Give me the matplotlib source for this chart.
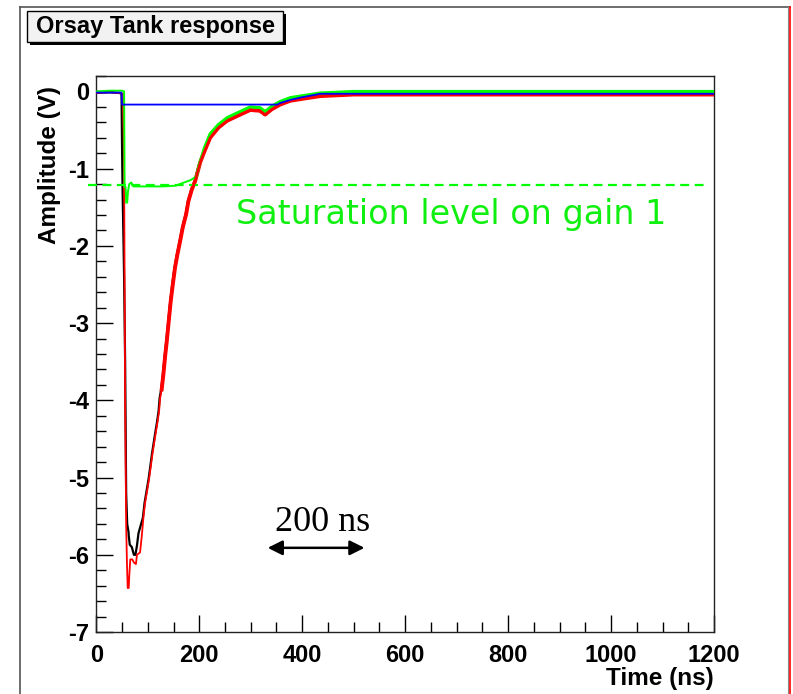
import numpy as np
import matplotlib
matplotlib.use("Agg")
import matplotlib.pyplot as plt
from matplotlib.patches import Rectangle
from matplotlib.lines import Line2D
from matplotlib.ticker import MultipleLocator

plt.rcParams["axes.unicode_minus"] = False

# ---------------- data ----------------
red_t = [0, 25, 45, 52, 54, 56, 58, 59.5, 61, 63, 64, 66, 70, 73, 77, 79, 85, 88.3, 91.5, 94.7,
         98, 102.5, 105.8, 109, 112, 115.5, 118.7, 122, 124, 127, 130.4, 133.7, 137, 141.4, 144.7,
         148.6, 153, 157.6, 162.8, 168, 174.5, 179, 185.6, 192, 196.5, 201.8, 208, 221, 237, 254,
         273, 299, 318, 328, 341, 357, 377, 396, 435, 500, 600, 700, 800, 900, 1000, 1100, 1200]
red_v = [-0.02, -0.01, -0.02, -0.03, -1.0, -4.0, -5.6, -6.1, -6.43, -6.43, -6.28, -6.06, -6.06,
         -6.1, -6.12, -6.0, -5.97, -5.76, -5.52, -5.33, -5.2, -5.02, -4.86, -4.7, -4.57, -4.42,
         -4.29, -4.14, -3.97, -3.86, -3.66, -3.43, -3.23, -2.93, -2.71, -2.5, -2.28, -2.11, -1.94,
         -1.76, -1.59, -1.42, -1.27, -1.16, -1.05, -0.92, -0.81, -0.6, -0.47, -0.38, -0.32, -0.24,
         -0.25, -0.30, -0.23, -0.17, -0.12, -0.10, -0.06, -0.04, -0.04, -0.04, -0.04, -0.04,
         -0.04, -0.04, -0.04]

black_t = [0, 25, 45, 49, 50, 51, 53, 54, 56, 58, 60, 62.5, 63, 65, 69, 73, 76, 79, 82, 90.5,
           93.7, 97, 101.5, 104.8, 108, 111, 114.5, 117.7, 121, 123, 126, 129.4, 132.7, 136,
           140.4, 143.7, 147.6, 152, 156.6, 161.8, 167, 173.5, 178, 184.6, 191, 195.5, 200.8,
           207, 220, 236, 253, 272, 298, 317, 327, 340, 356, 376, 395, 434, 500, 1200]
black_v = [-0.02, -0.01, -0.02, -0.03, -0.7, -1.25, -2.0, -2.4, -3.5, -5.2, -5.6, -5.7, -5.75,
           -5.87, -5.9, -6.0, -6.0, -5.88, -5.72, -5.52, -5.33, -5.2, -5.02, -4.86, -4.7, -4.57,
           -4.42, -4.29, -4.14, -3.97, -3.86, -3.66, -3.43, -3.23, -2.93, -2.71, -2.5, -2.28,
           -2.11, -1.94, -1.76, -1.59, -1.42, -1.27, -1.16, -1.05, -0.92, -0.81, -0.6, -0.47,
           -0.38, -0.32, -0.24, -0.25, -0.30, -0.23, -0.17, -0.12, -0.10, -0.06, -0.04, -0.04]

green_t = [0, 25, 50, 54, 55, 57, 58, 60, 61.5, 64, 68, 72, 100, 130, 155, 162, 170, 182.5,
           190, 195, 199.7, 204.7, 210, 221, 237, 254, 273, 299, 318, 328, 341, 357, 377, 396,
           435, 500, 1200]
green_v = [0.0, 0.01, 0.01, 0.0, -1.24, -1.24, -1.44, -1.44, -1.3, -1.2, -1.18, -1.23, -1.23,
           -1.23, -1.22, -1.2, -1.18, -1.15, -1.12, -1.09, -0.95, -0.85, -0.73, -0.55, -0.43,
           -0.34, -0.28, -0.2, -0.21, -0.26, -0.19, -0.13, -0.08, -0.06, -0.02, 0.0, 0.0]

blue_t = [0, 49, 50, 352, 357, 377, 396, 420, 435, 500, 1200]
blue_v = [-0.015, -0.015, -0.17, -0.17, -0.15, -0.11, -0.08, -0.05, -0.03, -0.03, -0.03]

sat_level = -1.21
sat_t = [-16, 1182]
sat_label = "Saturation level on gain 1"

scale_t = [333, 521]
scale_v = -5.91
scale_label = "200 ns"

title = "Orsay Tank response"
xlabel = "Time (ns)"
ylabel = "Amplitude (V)"
xlim = (0, 1200)
ylim = (-7, 0.2)

# ---------------- figure ----------------
W, H = 793, 694
fig = plt.figure(figsize=(W / 100, H / 100), dpi=100)
fig.patch.set_facecolor("white")

ax = fig.add_axes([96.3 / W, (H - 632) / H, (714 - 96.3) / W, (632 - 76) / H])
ax.set_facecolor("white")

bold = dict(family="Liberation Sans", weight="bold")

ax.plot(black_t, black_v, color="black", lw=1.6, zorder=2)
ax.plot(red_t, red_v, color="#ff0000", lw=1.3, zorder=3)
rt = np.array(red_t); rv = np.array(red_v)
m = rt >= 125
ax.plot(rt[m], rv[m], color="#ff0000", lw=2.8, zorder=3)
gt = np.array(green_t); gv = np.array(green_v)
ax.plot(gt, gv, color="#00ff00", lw=1.4, zorder=4)
mg = gt >= 195
ax.plot(gt[mg], gv[mg], color="#00ff00", lw=2.2, zorder=4)
ax.plot(rt[m], rv[m], color="#ff0000", lw=1.8, zorder=4.5)
ax.plot(blue_t, blue_v, color="#0000ff", lw=1.3, zorder=5)

ax.plot(sat_t, [sat_level, sat_level], color="#00ff00", lw=1.6, dashes=(4, 2.5),
        clip_on=False, zorder=4)
ax.text(272, -1.6, sat_label, color="#10f010", fontsize=24, family="DejaVu Sans",
        ha="left", va="center")

ax.annotate("", xy=(scale_t[0], scale_v), xytext=(scale_t[1], scale_v),
            arrowprops=dict(arrowstyle="<|-|>", color="black", lw=1.8,
                            mutation_scale=22, shrinkA=0, shrinkB=0))
ax.text((scale_t[0] + scale_t[1]) / 2 + 13, -5.58, scale_label, fontsize=26,
        family="Liberation Serif", ha="center", va="center")

ax.set_xlim(*xlim)
ax.set_ylim(*ylim)
ax.xaxis.set_major_locator(MultipleLocator(200))
ax.xaxis.set_minor_locator(MultipleLocator(50))
ax.yaxis.set_major_locator(MultipleLocator(1))
ax.yaxis.set_minor_locator(MultipleLocator(0.2))
ax.tick_params(which="both", direction="in", top=False, right=False, color="black", width=1)
ax.tick_params(which="major", length=12.5)
ax.tick_params(which="minor", length=7)
ax.tick_params(axis="x", which="major", pad=9)
ax.tick_params(axis="y", which="major", pad=5)
for lab in ax.get_xticklabels() + ax.get_yticklabels():
    lab.set_fontfamily("Liberation Sans")
    lab.set_fontweight("bold")
    lab.set_fontsize(17)
for sp in ax.spines.values():
    sp.set_linewidth(1.0)
    sp.set_color("#222222")

ax.set_xlabel(xlabel, fontsize=17.5, **bold)
ax.xaxis.set_label_coords(1.0, -0.083)
ax.xaxis.label.set_ha("right")
ax.xaxis.label.set_va("center")
ax.set_ylabel(ylabel, fontsize=17.5, **bold)
ax.yaxis.set_label_coords(-0.075, 0.84)
ax.yaxis.label.set_va("center")

# canvas frame
fig.add_artist(Line2D([20 / W, 20 / W], [0, 1 - 7 / H], transform=fig.transFigure,
                      color="#555555", lw=1.2))
fig.add_artist(Line2D([20 / W, 790 / W], [1 - 7 / H, 1 - 7 / H], transform=fig.transFigure,
                      color="#555555", lw=1.2))
fig.add_artist(Line2D([788 / W, 788 / W], [0, 1 - 7 / H], transform=fig.transFigure,
                      color="#888888", lw=0.8))
fig.add_artist(Line2D([790 / W, 790 / W], [0, 1 - 7 / H], transform=fig.transFigure,
                      color="#ff0000", lw=1.2))

# title box with shadow
bx0, by0, bw, bh = 27, 11, 256, 31
fig.add_artist(Rectangle(((bx0 + 3) / W, 1 - (by0 + bh + 3) / H), bw / W, bh / H,
                         transform=fig.transFigure, facecolor="black", edgecolor="none"))
fig.add_artist(Rectangle((bx0 / W, 1 - (by0 + bh) / H), bw / W, bh / H,
                         transform=fig.transFigure, facecolor="#f2f2f2",
                         edgecolor="black", lw=1.0))
fig.text((bx0 + bw / 2) / W, 1 - (by0 + bh / 2) / H, title, ha="center", va="center",
         fontsize=17, **bold)

fig.savefig("out.png", dpi=100, facecolor=fig.get_facecolor())
